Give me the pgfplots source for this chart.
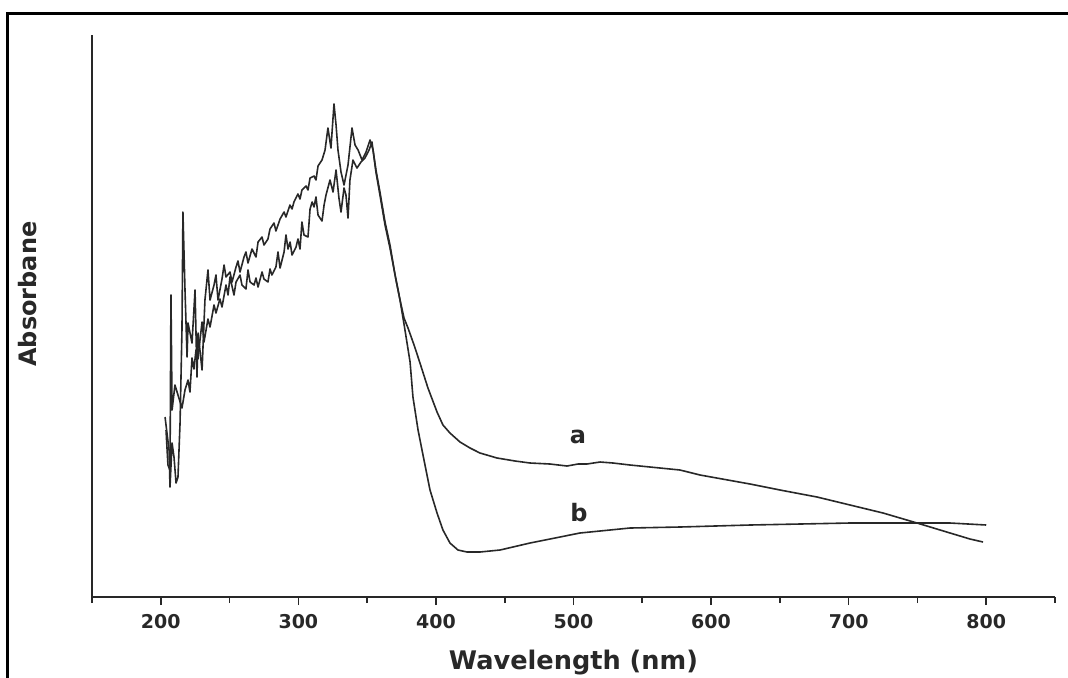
\documentclass[border=0pt]{standalone}
\usepackage{fontspec}
\setmainfont{DejaVu Sans}
\usepackage{pgfplots}
\pgfplotsset{compat=1.18}
\definecolor{ink}{RGB}{40,40,40}

\begin{document}
\begin{tikzpicture}
\begin{axis}[
  scale only axis, width=481.5pt, height=281pt,
  at={(46pt,40pt)}, anchor=south west,
  xmin=150, xmax=850, ymin=0, ymax=5.62,
  axis x line=bottom, axis y line=left,
  axis line style={ink, line width=0.8pt, -},
  xtick={200,300,...,800}, minor xtick={150,250,...,850},
  ytick=\empty,
  tick align=outside, major tick length=4pt, minor tick length=3pt,
  every tick/.style={ink, line width=0.8pt},
  xticklabel style={font=\fontsize{9.5}{11}\selectfont\bfseries, text=ink, yshift=-1pt},
  /pgf/number format/assume math mode=true,
  xlabel={Wavelength (nm)}, ylabel={Absorbane},
  label style={font=\fontsize{12}{14}\selectfont\bfseries, text=ink},
  xlabel style={font=\fontsize{12.8}{15}\selectfont\bfseries, at={(axis description cs:0.5,-0.1157)}, anchor=center},
  ylabel style={at={(axis description cs:-0.0665,0.539)}, anchor=center},
  clip=false,
]
% curve a
\addplot[ink, line width=0.8pt, line join=round] coordinates {
(203.8,1.67)(205.2,1.32)(206.7,1.27)(207.4,3.02)(208.2,1.87)(210.3,2.12)
(212.5,2.02)(215.4,1.89)(217.6,2.07)(219.8,2.17)(221.2,2.05)(222.7,2.39)
(224.1,2.28)(225.6,2.47)(227.0,2.38)(228.5,2.57)(230.0,2.75)(231.4,2.55)
(234.3,2.78)(235.8,2.70)(238.7,2.92)(240.1,2.84)(243.0,2.98)(244.5,2.90)
(247.4,3.12)(248.9,3.02)(250.3,3.20)(253.2,3.02)(254.7,3.15)(257.6,3.22)
(259.0,3.12)(261.9,3.08)(263.4,3.27)(264.9,3.15)(267.8,3.12)(269.2,3.19)
(270.7,3.10)(273.6,3.25)(275.0,3.18)(277.9,3.15)(279.4,3.28)(280.8,3.22)
(283.7,3.30)(285.2,3.45)(286.7,3.29)(289.6,3.45)(291.0,3.62)(292.5,3.48)
(294.0,3.55)(295.4,3.42)(298.3,3.50)(299.7,3.58)(301.2,3.48)(302.6,3.75)
(304.1,3.62)(307.0,3.60)(308.5,3.88)(310.0,3.95)(311.4,3.90)(312.8,4.00)
(314.3,3.82)(317.2,3.76)(318.7,3.92)(320.1,4.02)(323.0,4.17)(325.2,4.05)
(327.4,4.27)(329.5,3.99)(331.0,3.85)(333.2,4.09)(334.6,4.02)(336.1,3.79)
(337.5,4.17)(339.7,4.37)(342.6,4.29)(345.5,4.35)(348.4,4.39)(351.4,4.47)
(353.5,4.55)(356.4,4.25)(359.3,4.02)(363.0,3.72)(366.6,3.49)(370.3,3.22)
(373.9,2.97)(376.8,2.79)(379.7,2.69)(384.1,2.52)(388.4,2.34)(394.2,2.09)
(400.8,1.85)(405.1,1.72)(410.2,1.64)(417.5,1.55)(424.8,1.49)(432.0,1.44)
(444.4,1.39)(457.5,1.36)(468.4,1.34)(482.9,1.33)(495.3,1.31)(503.3,1.33)
(509.8,1.33)(519.3,1.35)(528.7,1.34)(541.1,1.32)(555.6,1.30)(577.4,1.27)
(592.0,1.22)(628.3,1.13)(650.1,1.07)(677.0,1.00)(701.0,0.92)(725.0,0.84)
(749.7,0.74)(773.7,0.64)(788.2,0.58)(797.7,0.55)
};
% curve b
\addplot[ink, line width=0.8pt, line join=round] coordinates {
(203.1,1.80)(206.0,1.47)(206.7,1.10)(208.2,1.54)(209.6,1.40)(211.1,1.14)
(212.5,1.20)(214.0,1.74)(215.4,2.67)(216.1,3.85)(217.6,3.07)(219.1,2.40)
(219.8,2.74)(222.7,2.54)(224.9,3.07)(226.3,2.20)(227.1,2.64)(230.0,2.27)
(232.1,2.97)(234.3,3.27)(235.8,2.97)(238.7,3.12)(240.1,3.22)(241.6,2.97)
(244.5,3.18)(246.0,3.32)(247.4,3.20)(250.3,3.25)(251.8,3.15)(254.7,3.30)
(256.1,3.36)(257.6,3.25)(260.5,3.40)(261.9,3.45)(263.4,3.34)(266.3,3.48)
(269.2,3.40)(270.7,3.55)(273.6,3.60)(275.0,3.52)(277.9,3.58)(279.4,3.68)
(282.3,3.74)(283.7,3.66)(286.7,3.78)(289.6,3.85)(291.0,3.80)(293.9,3.92)
(295.4,3.88)(296.8,3.95)(299.7,4.03)(301.2,3.98)(302.6,4.07)(305.6,4.11)
(307.0,4.07)(308.5,4.19)(311.4,4.21)(312.8,4.17)(314.3,4.31)(317.2,4.37)
(319.4,4.47)(321.5,4.69)(323.7,4.49)(325.9,4.93)(327.4,4.72)(328.8,4.47)
(331.0,4.25)(333.2,4.12)(336.1,4.32)(339.0,4.69)(341.2,4.52)(343.4,4.47)
(346.3,4.37)(349.2,4.45)(352.1,4.57)(354.3,4.47)(356.4,4.27)(359.3,4.05)
(363.0,3.75)(366.6,3.52)(370.3,3.22)(373.9,2.97)(377.5,2.67)(381.2,2.35)
(383.3,2.00)(387.0,1.67)(390.6,1.42)(395.7,1.07)(400.8,0.84)(405.1,0.67)
(410.2,0.54)(416.0,0.47)(422.6,0.45)(432.0,0.45)(446.6,0.47)(468.4,0.54)
(490.2,0.60)(504.7,0.64)(526.5,0.67)(541.1,0.69)(577.4,0.70)(628.3,0.72)
(664.7,0.73)(701.0,0.74)(749.7,0.74)(773.7,0.74)(800.0,0.72)
};
\node[font=\fontsize{12}{14}\selectfont\bfseries, text=ink] at (axis cs:503.3,1.60) {a};
\node[font=\fontsize{12}{14}\selectfont\bfseries, text=ink] at (axis cs:504,0.84) {b};
\end{axis}
\draw[line width=1.5pt, black] (3.5pt,-10pt) -- (3.5pt,332pt) -- (560pt,332pt);
\pgfresetboundingbox
\useasboundingbox (0,0) rectangle (534pt,338.5pt);
\end{tikzpicture}
\end{document}
